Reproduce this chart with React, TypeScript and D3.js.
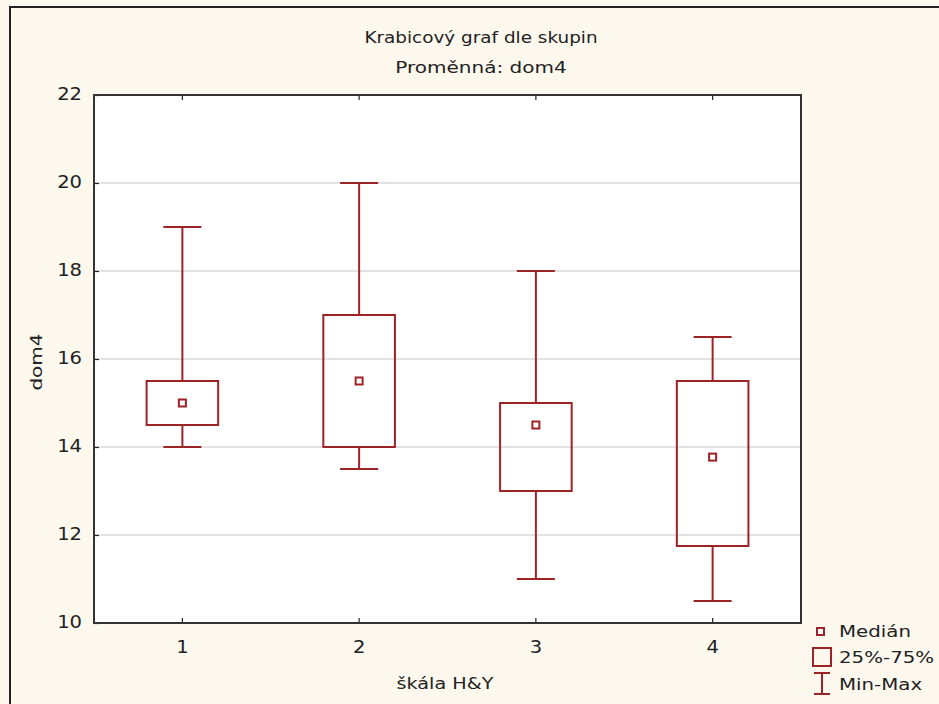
import React from 'react';
import * as d3 from 'd3';

const groups = ['1', '2', '3', '4'];
const mins = [14, 13.5, 11, 10.5];
const q1s = [14.5, 14, 13, 11.75];
const medians = [15, 15.5, 14.5, 13.77];
const q3s = [15.5, 17, 15, 15.5];
const maxs = [19, 20, 18, 16.5];
const yTicks = [10, 12, 14, 16, 18, 20, 22];

const RED = '#9c2326';
const FONT = '"DejaVu Sans", Verdana, sans-serif';
const INK = '#222';

function App() {
  const ref = React.useRef<SVGSVGElement>(null);

  React.useEffect(() => {
    const svg = d3.select(ref.current);
    svg.selectAll('*').remove();

    const width = 939, height = 704;
    const left = 94, right = 801, top = 95, bottom = 623;

    // the original text is rendered wide, so stretch it a bit horizontally
    const text = (tx: number, ty: number, s: string, anchor = 'middle', size = 16, rot = 0, sx = 1.2) =>
      svg.append('g').attr('transform', `translate(${tx},${ty}) rotate(${rot}) scale(${sx},1)`)
        .append('text').attr('text-anchor', anchor)
        .attr('font-family', FONT).attr('font-size', size).attr('fill', INK).text(s);

    // background + outer frame
    svg.append('rect').attr('width', width).attr('height', height).attr('fill', '#fdf8ee');
    svg.append('rect')
      .attr('x', 10).attr('y', 7).attr('width', width + 20).attr('height', height + 20)
      .attr('fill', 'none').attr('stroke', INK).attr('stroke-width', 2);

    const x = d3.scaleBand().domain(groups).range([left, right]);
    const y = d3.scaleLinear().domain([10, 22]).range([bottom, top]);

    svg.append('rect')
      .attr('x', left).attr('y', top).attr('width', right - left).attr('height', bottom - top)
      .attr('fill', '#fff');

    // grid
    svg.append('g').selectAll('line')
      .data(yTicks.filter(t => t > 10 && t < 22))
      .enter().append('line')
      .attr('x1', left).attr('x2', right)
      .attr('y1', d => y(d)).attr('y2', d => y(d))
      .attr('stroke', '#d9d9d9').attr('stroke-width', 1.5);

    // axes (tick marks only, labels drawn below)
    const yAxis = svg.append('g').attr('transform', `translate(${left},0)`)
      .call(d3.axisLeft(y).tickValues(yTicks).tickSize(-5).tickFormat(() => ''));
    const xAxis = svg.append('g').attr('transform', `translate(0,${bottom})`)
      .call(d3.axisBottom(x).tickSize(-5).tickFormat(() => ''));
    const xTop = svg.append('g').attr('transform', `translate(0,${top})`)
      .call(d3.axisTop(x).tickSize(-5).tickFormat(() => ''));
    [yAxis, xAxis, xTop].forEach(a => {
      a.select('.domain').remove();
      a.selectAll('.tick line').attr('stroke', INK).attr('stroke-width', 1.2);
    });

    yTicks.forEach(t => text(82, y(t) + 5, String(t), 'end', 17, 0, 1.15));
    groups.forEach(k => text(x(k)! + x.bandwidth() / 2, 653, k, 'middle', 17, 0, 1.15));

    svg.append('rect')
      .attr('x', left).attr('y', top).attr('width', right - left).attr('height', bottom - top)
      .attr('fill', 'none').attr('stroke', '#333').attr('stroke-width', 2);

    // boxes
    const bw = x.bandwidth() * 0.405;
    const cw = x.bandwidth() * 0.215;
    const g = svg.append('g').attr('stroke', RED).attr('stroke-width', 2).attr('fill', 'none');
    groups.forEach((k, i) => {
      const cx = x(k)! + x.bandwidth() / 2;
      g.append('line').attr('x1', cx).attr('x2', cx).attr('y1', y(maxs[i])).attr('y2', y(q3s[i]));
      g.append('line').attr('x1', cx).attr('x2', cx).attr('y1', y(q1s[i])).attr('y2', y(mins[i]));
      g.append('line').attr('x1', cx - cw / 2).attr('x2', cx + cw / 2).attr('y1', y(maxs[i])).attr('y2', y(maxs[i]));
      g.append('line').attr('x1', cx - cw / 2).attr('x2', cx + cw / 2).attr('y1', y(mins[i])).attr('y2', y(mins[i]));
      g.append('rect').attr('x', cx - bw / 2).attr('y', y(q3s[i])).attr('width', bw).attr('height', y(q1s[i]) - y(q3s[i]));
      g.append('rect').attr('x', cx - 3.5).attr('y', y(medians[i]) - 3.5).attr('width', 7).attr('height', 7).attr('fill', '#fff');
    });

    // titles
    text(481, 43, 'Krabicový graf dle skupin', 'middle', 16, 0, 1.15);
    text(481, 73, 'Proměnná: dom4', 'middle', 16, 0, 1.25);
    text(445, 689, 'škála H&Y');
    text(42, 362, 'dom4', 'middle', 16, -90, 1.25);

    // legend
    const lg = svg.append('g').attr('stroke', RED).attr('stroke-width', 2).attr('fill', 'none');
    lg.append('rect').attr('x', 817).attr('y', 628).attr('width', 7).attr('height', 7).attr('fill', '#fff');
    lg.append('rect').attr('x', 813).attr('y', 648).attr('width', 18).attr('height', 18);
    lg.append('line').attr('x1', 822).attr('x2', 822).attr('y1', 673).attr('y2', 694);
    lg.append('line').attr('x1', 814).attr('x2', 830).attr('y1', 673).attr('y2', 673);
    lg.append('line').attr('x1', 814).attr('x2', 830).attr('y1', 694).attr('y2', 694);
    text(839, 637, 'Medián', 'start', 16.5);
    text(839, 663, '25%-75%', 'start', 16.5);
    text(839, 690, 'Min-Max', 'start', 16.5);
  });

  return (
    <svg ref={ref} width={939} height={704}
      style={{ position: 'absolute', left: 0, top: 0, display: 'block' }} />
  );
}

export default App;
